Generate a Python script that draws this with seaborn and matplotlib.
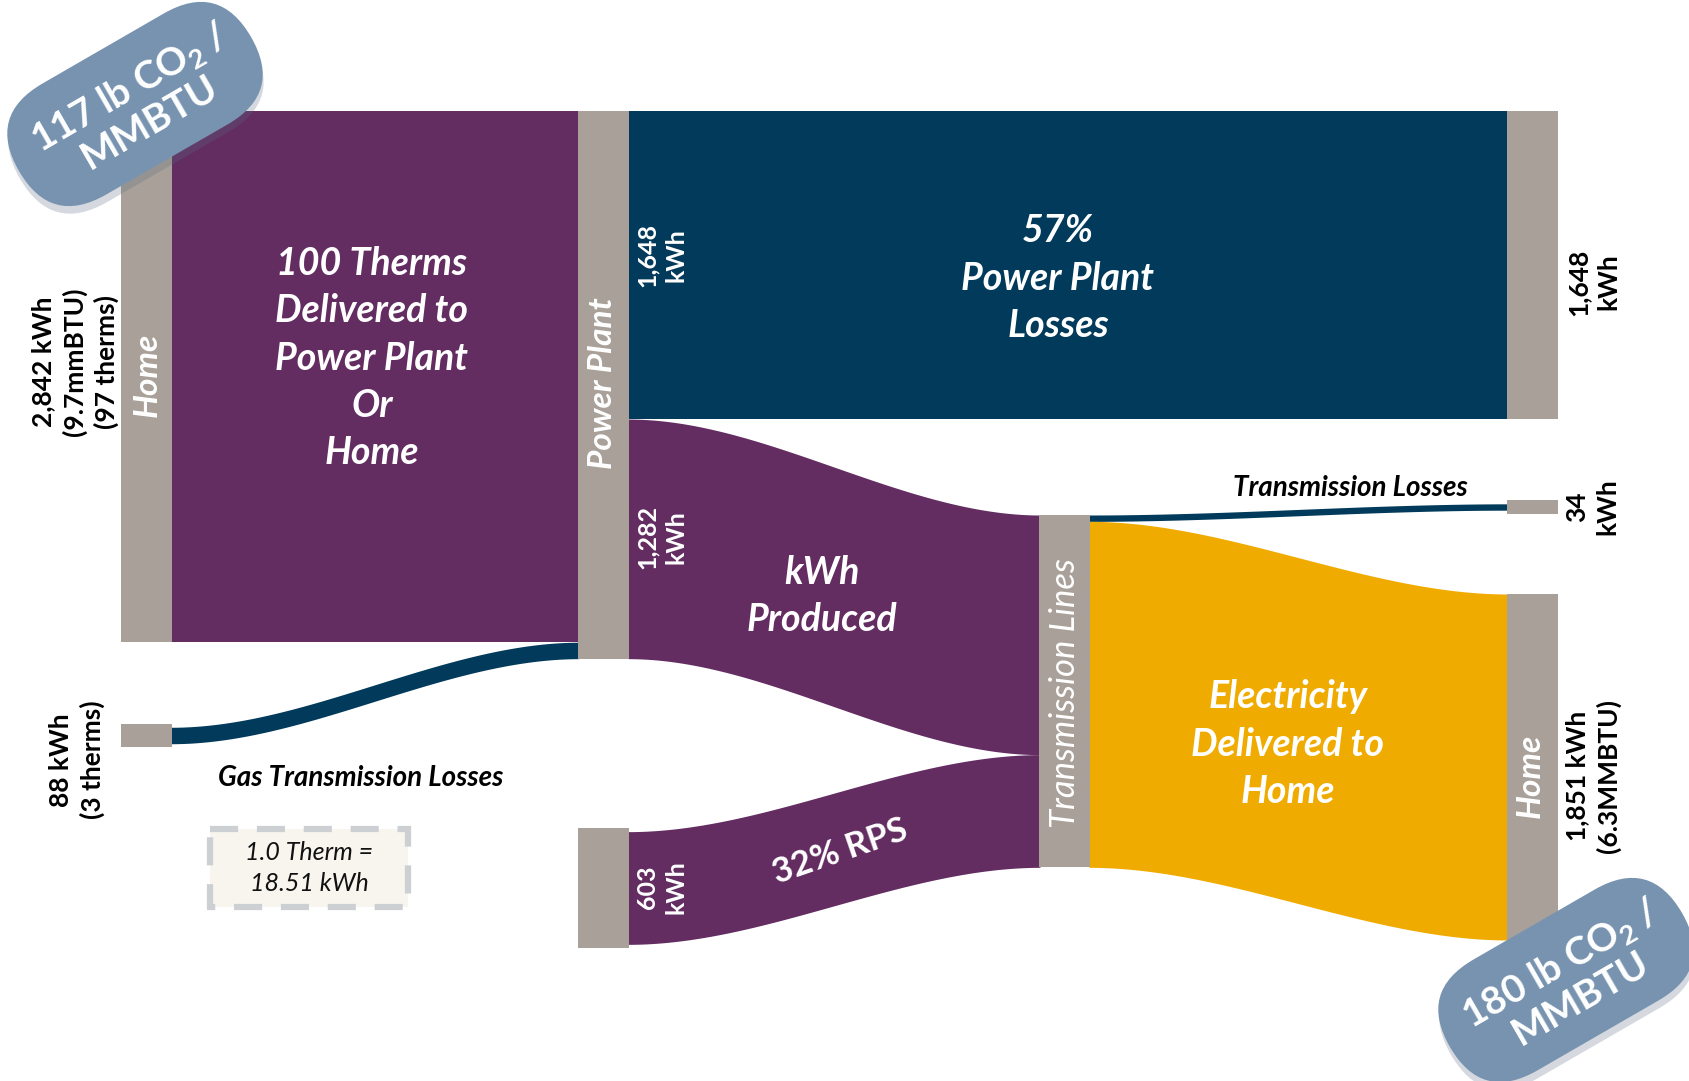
import numpy as np
import pandas as pd
import matplotlib
matplotlib.use("Agg")
import matplotlib.pyplot as plt
import seaborn as sns
from matplotlib.patches import FancyBboxPatch, Rectangle
from matplotlib.transforms import Affine2D

# ----------------------------------------------------------------------------
# DATA (kWh per 100 therms of gas)
# ----------------------------------------------------------------------------
FLOW_SOURCE = ["Home (gas)", "Gas losses", "Power Plant", "Power Plant",
               "RPS", "Transmission Lines", "Transmission Lines"]
FLOW_TARGET = ["Power Plant", "Power Plant", "Plant losses", "Transmission Lines",
               "Transmission Lines", "Tx losses", "Home"]
FLOW_KWH = [2842, 88, 1648, 1282, 603, 34, 1851]
FLOW_KIND = ["gas", "loss", "loss", "elec", "elec", "loss", "delivered"]

# ----------------------------------------------------------------------------
# LAYOUT / STYLE
# ----------------------------------------------------------------------------
W_PX, H_PX = 1690, 1081
KWH_PER_PX = 5.35
NODE_W = 51

NODE_X = {"Home (gas)": 121, "Gas losses": 121, "Power Plant": 578, "RPS": 578,
          "Transmission Lines": 1039, "Plant losses": 1507, "Tx losses": 1507,
          "Home": 1507}
NODE_TOP = {"Home (gas)": 111, "Gas losses": 724, "Power Plant": 111, "RPS": 828,
            "Transmission Lines": 515, "Plant losses": 111, "Tx losses": 500,
            "Home": 594}
NODE_MIN_H = {"Gas losses": 23, "RPS": 120, "Tx losses": 14}

PURPLE = "#632D62"
NAVY = "#013A5A"
GOLD = "#F0AB00"
GREY = "#A9A199"
BADGE = "#7893B0"
KIND_COLOR = {"gas": PURPLE, "elec": PURPLE, "loss": NAVY, "delivered": GOLD}

sns.set_theme(style="white")
plt.rcParams["font.family"] = ["Lato", "DejaVu Sans"]
plt.rcParams["mathtext.fontset"] = "custom"
plt.rcParams["mathtext.rm"] = "Lato:bold"
plt.rcParams["mathtext.bf"] = "Lato:bold"
plt.rcParams["mathtext.it"] = "Lato:bold:italic"

flows = pd.DataFrame({"source": FLOW_SOURCE, "target": FLOW_TARGET,
                      "kwh": FLOW_KWH, "kind": FLOW_KIND})
flows["px"] = flows["kwh"] / KWH_PER_PX

# node sizes from the flows
nodes = {}
for n in NODE_X:
    h_in = flows.loc[flows.target == n, "px"].sum()
    h_out = flows.loc[flows.source == n, "px"].sum()
    h = max(h_in, h_out)
    drawn = max(h, NODE_MIN_H.get(n, 0))
    nodes[n] = {"x": NODE_X[n], "top": NODE_TOP[n], "h": drawn,
                "off_out": NODE_TOP[n] + (drawn - h_out) / 2,
                "off_in": NODE_TOP[n] + (drawn - h_in) / 2}


def draw_flow(ax, x0, x1, y0, y1, h, color):
    x = np.linspace(x0, x1, 300)
    t = (x - x0) / (x1 - x0)
    s = t * t * (3 - 2 * t)
    top = y0 + (y1 - y0) * s
    ax.fill_between(x, top, top + h, color=color, lw=0, zorder=1)


def badge(ax, cx, cy, L, H, angle, text):
    tr = Affine2D().rotate_deg_around(cx, cy, -angle) + ax.transData
    shadow = FancyBboxPatch((cx - L / 2 - 3, cy - H / 2 + 7), L, H,
                            boxstyle=f"round,pad=0,rounding_size={H / 2}",
                            fc="#5a6a80", ec="none", alpha=0.25, zorder=5,
                            transform=tr)
    ax.add_patch(shadow)
    p = FancyBboxPatch((cx - L / 2, cy - H / 2), L, H,
                       boxstyle=f"round,pad=0,rounding_size={H / 2}",
                       fc=BADGE, ec="none", zorder=6, transform=tr)
    ax.add_patch(p)
    ax.text(cx + 4, cy, text, rotation=angle, ha="center", va="center",
            color="white", fontsize=28, fontweight="bold", linespacing=1.1,
            zorder=7, rotation_mode="anchor")


fig = plt.figure(figsize=(W_PX / 100, H_PX / 100), dpi=100)
ax = fig.add_axes([0, 0, 1, 1])
ax.set_xlim(0, W_PX)
ax.set_ylim(H_PX, 0)
sns.despine(ax=ax, left=True, bottom=True)
ax.set_xticks([])
ax.set_yticks([])

# flows
for _, f in flows.iterrows():
    s, t = nodes[f.source], nodes[f.target]
    x0 = s["x"] + NODE_W - 1
    x1 = t["x"] + 1
    draw_flow(ax, x0, x1, s["off_out"], t["off_in"], f.px, KIND_COLOR[f.kind])
    s["off_out"] += f.px
    t["off_in"] += f.px

# nodes
for n, d in nodes.items():
    ax.add_patch(Rectangle((d["x"], d["top"]), NODE_W, d["h"], fc=GREY,
                           ec="none", zorder=3))

# text
WB = dict(color="white", fontweight="bold", ha="center", va="center", zorder=4)
BK = dict(color="black", fontweight="bold", ha="center", va="center", zorder=4)
BIG = dict(fontsize=27, style="italic", linespacing=1.42)

ax.text(75, 362, "2,842 kWh\n(9.7mmBTU)\n(97 therms)", rotation=90,
        fontsize=19, linespacing=1.3, **BK)
ax.text(147, 375, "Home", rotation=90, fontsize=24, style="italic", **WB)
ax.text(372, 358, "100 Therms\nDelivered to\nPower Plant\nOr\nHome", **BIG, **WB)
ax.text(603, 383, "Power Plant", rotation=90, fontsize=24, style="italic", **WB)
ax.text(662, 255, "1,648\nkWh", rotation=90, fontsize=18, linespacing=1.3, **WB)
ax.text(662, 537, "1,282\nkWh", rotation=90, fontsize=18, linespacing=1.3, **WB)
ax.text(662, 887, "603\nkWh", rotation=90, fontsize=18, linespacing=1.3, **WB)
ax.text(1058, 278, "57%\nPower Plant\nLosses", **BIG, **WB)
ax.text(822, 596, "kWh\nProduced", **BIG, **WB)
ax.text(840, 852, "32% RPS", rotation=19, fontsize=25, **WB)
ax.text(1065, 693, "Transmission Lines", rotation=90, fontsize=25,
        style="italic", color="white", ha="center", va="center", zorder=4)
ax.text(1350, 488, "Transmission Losses", fontsize=20, style="italic", **BK)
ax.text(1592, 507, "34\nkWh", rotation=90, fontsize=19, linespacing=1.3, **BK)
ax.text(1593, 282, "1,648\nkWh", rotation=90, fontsize=19, linespacing=1.3, **BK)
ax.text(1288, 744, "Electricity\nDelivered to\nHome", **BIG, **WB)
ax.text(1530, 776, "Home", rotation=90, fontsize=24, style="italic", **WB)
ax.text(1593, 776, "1,851 kWh\n(6.3MMBTU)", rotation=90, fontsize=19,
        linespacing=1.3, **BK)
ax.text(77, 760, "88 kWh\n(3 therms)", rotation=90, fontsize=19,
        linespacing=1.3, **BK)
ax.text(361, 778, "Gas Transmission Losses", fontsize=20, style="italic", **BK)

# conversion box
ax.add_patch(Rectangle((210, 829), 198, 78, fc="#F7F5EE", ec="#CDD0D2",
                       lw=4.5, ls=(0, (4.5, 3)), zorder=4))
ax.text(309, 868, "1.0 Therm =\n18.51 kWh", fontsize=18, style="italic",
        color="#111111", ha="center", va="center", linespacing=1.4, zorder=5)

# CO2 badges
badge(ax, 135, 104, 268, 128, 30, "117 lb CO$_2$ /\nMMBTU")
badge(ax, 1566, 980, 268, 128, 30, "180 lb CO$_2$ /\nMMBTU")

fig.savefig("out.png", dpi=100, facecolor="white")
